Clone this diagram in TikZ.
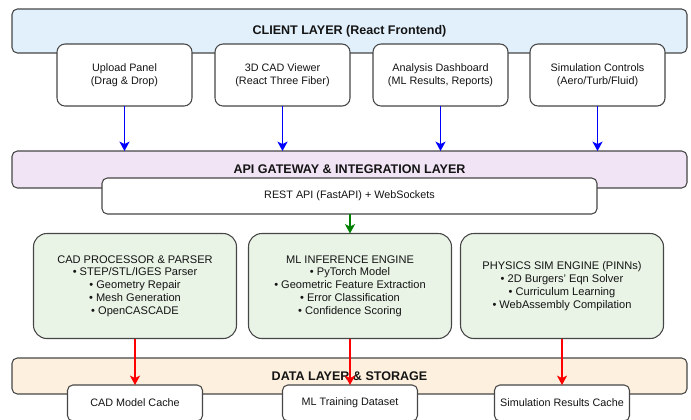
\documentclass[tikz,border=0pt]{standalone}
\usepackage{fontspec}
\setmainfont{Liberation Sans}
\usetikzlibrary{arrows.meta}

\definecolor{clientfill}{RGB}{226,240,251}
\definecolor{apifill}{RGB}{241,228,245}
\definecolor{enginefill}{RGB}{233,243,230}
\definecolor{datafill}{RGB}{253,240,222}
\definecolor{edgegray}{RGB}{70,70,70}
\definecolor{txt}{RGB}{20,20,20}
\definecolor{flowblue}{RGB}{0,0,255}
\definecolor{flowgreen}{RGB}{0,128,0}
\definecolor{flowred}{RGB}{255,0,0}

\tikzset{
  base/.style={draw=edgegray, line width=0.8pt, inner sep=0pt, outer sep=0pt,
               align=center, text=txt},
  layer/.style={base, rounded corners=4pt, minimum width=675*0.75pt,
                font=\fontsize{9.4pt}{11pt}\selectfont\bfseries},
  uibox/.style={base, fill=white, rounded corners=6pt,
                minimum width=135*0.75pt, minimum height=62*0.75pt,
                font=\fontsize{8.1pt}{10pt}\selectfont},
  restbox/.style={base, fill=white, rounded corners=4pt,
                  minimum width=495*0.75pt, minimum height=36*0.75pt,
                  font=\fontsize{8.1pt}{10pt}\selectfont},
  engbox/.style={base, fill=enginefill, rounded corners=10pt,
                 minimum width=203*0.75pt, minimum height=105*0.75pt,
                 font=\fontsize{8.3pt}{9.6pt}\selectfont},
  cachebox/.style={base, fill=white, rounded corners=4pt,
                   minimum width=135*0.75pt, minimum height=36*0.75pt,
                   font=\fontsize{8.1pt}{10pt}\selectfont},
  flow/.style={line width=1.35pt, -{Stealth[length=7pt,width=7.5pt,inset=1.8pt]}},
}

\begin{document}
\begin{tikzpicture}[x=0.75pt,y=-0.75pt]
  \useasboundingbox (0,0) rectangle (691,419);
  \clip (0,0) rectangle (691,419);

  % client layer
  \node[layer, fill=clientfill, minimum height=44*0.75pt] (client) at (349.5,31)
    {CLIENT LAYER (React Frontend)};
  \node[uibox] (upload) at (124.5,75) {Upload Panel\\(Drag \& Drop)};
  \node[uibox] (viewer) at (282.5,75) {3D CAD Viewer\\(React Three Fiber)};
  \node[uibox] (dash)   at (440.5,75) {Analysis Dashboard\\(ML Results, Reports)};
  \node[uibox] (simctl) at (597.5,75) {Simulation Controls\\(Aero/Turb/Fluid)};

  % API gateway
  \node[layer, fill=apifill, minimum height=37*0.75pt] (api) at (349.5,169.5)
    {API GATEWAY \& INTEGRATION LAYER};
  \node[restbox] (rest) at (349.5,196) {REST API (FastAPI) + WebSockets};

  % processing engines
  \node[engbox] (cad) at (135,286)
    {CAD PROCESSOR \& PARSER\\• STEP/STL/IGES Parser\\• Geometry Repair\\• Mesh Generation\\• OpenCASCADE};
  \node[engbox] (ml) at (350,286)
    {ML INFERENCE ENGINE\\• PyTorch Model\\• Geometric Feature Extraction\\• Error Classification\\• Confidence Scoring};
  \node[engbox] (phys) at (562,286)
    {PHYSICS SIM ENGINE (PINNs)\\• 2D Burgers' Eqn Solver\\• Curriculum Learning\\• WebAssembly Compilation};

  % data layer
  \node[layer, fill=datafill, minimum height=36*0.75pt] (data) at (349.5,376)
    {DATA LAYER \& STORAGE};
  \node[cachebox] (cadcache) at (135,403) {CAD Model Cache};
  \node[cachebox] (mlset)    at (350,403) {ML Training Dataset};
  \node[cachebox] (simcache) at (562,403) {Simulation Results Cache};

  % connectors
  \foreach \n in {upload,viewer,dash,simctl}
    \draw[flow, flowblue] (\n.south) -- (\n.south |- api.north);
  \draw[flow, flowgreen] (rest.south -| ml.north) -- (ml.north);
  \draw[flow, flowred] (cad.south) -- (cadcache.north);
  \draw[flow, flowred] (ml.south) -- (mlset.north);
  \draw[flow, flowred] (phys.south) -- (simcache.north);
\end{tikzpicture}
\end{document}
